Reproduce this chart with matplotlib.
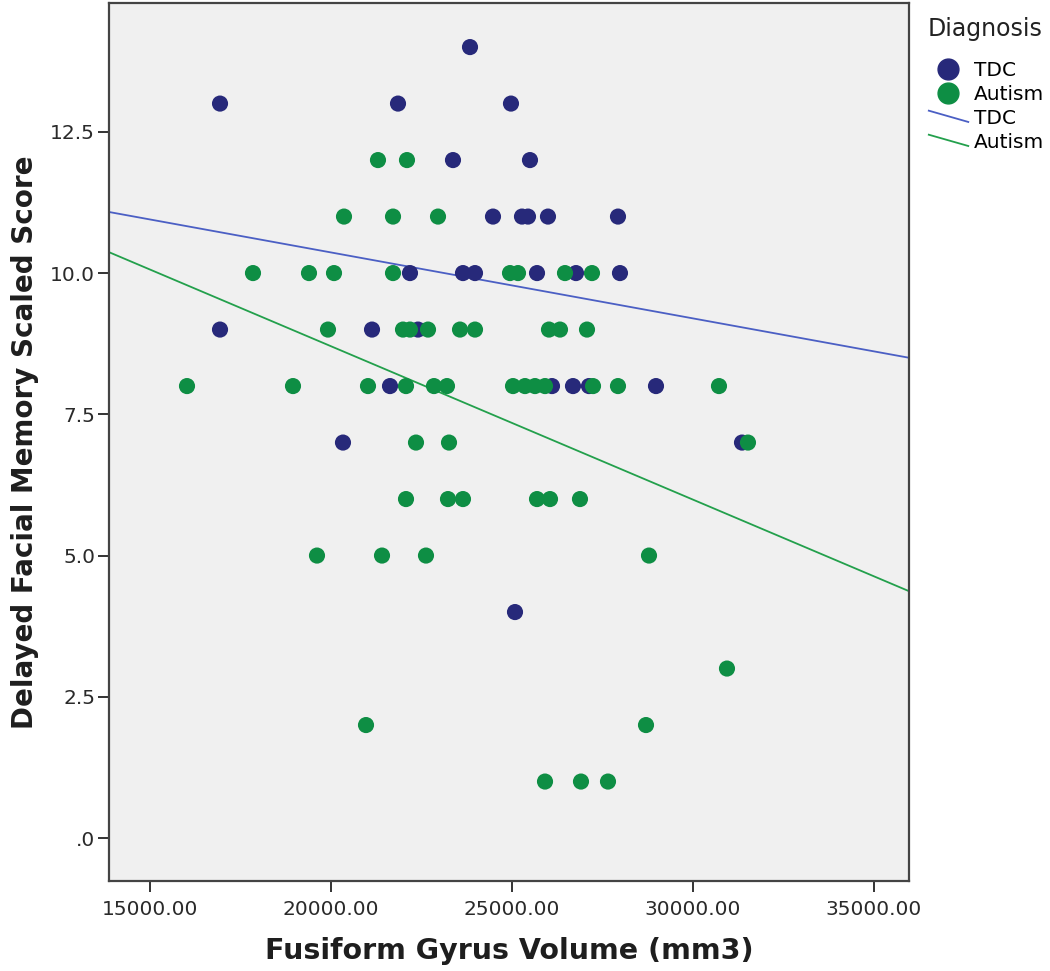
import matplotlib
matplotlib.use("Agg")
import matplotlib.pyplot as plt
from matplotlib.lines import Line2D
from matplotlib.legend_handler import HandlerBase
import numpy as np

# ---- data ----
tdc_x = [23840, 16934, 21851, 24972, 23370, 25497,
         24475, 25276, 25442, 25994, 27928,
         22182, 23646, 23978, 25691, 26768, 27983,
         16934, 21133, 22403,
         21630, 26105, 26685, 27127, 28978,
         20331, 31354,
         25083]
tdc_y = [14, 13, 13, 13, 12, 12,
         11, 11, 11, 11, 11,
         10, 10, 10, 10, 10, 10,
         9, 9, 9,
         8, 8, 8, 8, 8,
         7, 7,
         4]

aut_x = [21298, 22099,
         20359, 21713, 22956,
         17845, 19392, 20083, 21713, 24945, 25166, 26464, 27210,
         19917, 21989, 22182, 22680, 23564, 23978, 26022, 26326, 27072,
         16022, 18950, 21022, 22072, 22845, 23204, 25028, 25359, 25635, 25912, 27238, 27928, 30718,
         22348, 23260, 31519,
         22072, 23232, 23646, 25691, 26050, 26878,
         19613, 21409, 22624, 28785,
         30939,
         20967, 28702,
         25912, 26906, 27652]
aut_y = [12, 12,
         11, 11, 11,
         10, 10, 10, 10, 10, 10, 10, 10,
         9, 9, 9, 9, 9, 9, 9, 9, 9,
         8, 8, 8, 8, 8, 8, 8, 8, 8, 8, 8, 8, 8,
         7, 7, 7,
         6, 6, 6, 6, 6, 6,
         5, 5, 5, 5,
         3,
         2, 2,
         1, 1, 1]

# fit lines (intercept, slope)
tdc_fit = [12.70, -1.1674e-4]
aut_fit = [14.135, -2.715e-4]

groups = ["TDC", "Autism"]
x_ticks = [15000, 20000, 25000, 30000, 35000]
x_tick_labels = ["15000.00", "20000.00", "25000.00", "30000.00", "35000.00"]
y_ticks = [0, 2.5, 5, 7.5, 10, 12.5]
y_tick_labels = [".0", "2.5", "5.0", "7.5", "10.0", "12.5"]

# ---- styling ----
c_tdc = "#27297a"
c_aut = "#0e8e44"
c_tdc_line = "#4b5fc4"
c_aut_line = "#23a04c"


class HandlerDiag(HandlerBase):
    def create_artists(self, legend, orig_handle, xdescent, ydescent,
                       width, height, fontsize, trans):
        x0 = -xdescent
        y0 = -ydescent
        ln = Line2D([x0 + 0.02 * width, x0 + width],
                    [y0 + 0.95 * height, y0 + 0.15 * height])
        ln.set_color(orig_handle.get_color())
        ln.set_linewidth(orig_handle.get_linewidth())
        ln.set_transform(trans)
        return [ln]


fig = plt.figure(figsize=(10.5, 9.71), dpi=100)
ax = fig.add_axes([0.1038, 0.0927, 0.7619, 0.9042])
ax.set_facecolor("#f0f0f0")

xlim = (13867, 35967)
ax.set_xlim(*xlim)
ax.set_ylim(-0.76, 14.78)

xx = np.array(xlim, dtype=float)
ax.plot(xx, tdc_fit[0] + tdc_fit[1] * xx, color=c_tdc_line, lw=1.3, zorder=2)
ax.plot(xx, aut_fit[0] + aut_fit[1] * xx, color=c_aut_line, lw=1.3, zorder=2)

ax.scatter(tdc_x, tdc_y, s=135, color=c_tdc, edgecolors="none", zorder=3)
ax.scatter(aut_x, aut_y, s=135, color=c_aut, edgecolors="none", zorder=4)

ax.set_xticks(x_ticks)
ax.set_xticklabels(x_tick_labels)
ax.set_yticks(y_ticks)
ax.set_yticklabels(y_tick_labels)
ax.tick_params(axis="both", direction="out", length=8, width=1.4, colors="#333333",
               labelsize=14.5, labelcolor="#2a2a2a")
ax.tick_params(axis="x", pad=6)
ax.tick_params(axis="y", pad=2)
for sp in ax.spines.values():
    sp.set_color("#444444")
    sp.set_linewidth(1.6)

ax.set_xlabel("Fusiform Gyrus Volume (mm3)", fontsize=20.5, fontweight="bold",
              color="#1e1e1e", labelpad=13)
ax.set_ylabel("Delayed Facial Memory Scaled Score", fontsize=20, fontweight="bold",
              color="#1e1e1e", labelpad=8)

fig.text(928 / 1050, 1 - 29 / 971, "Diagnosis", fontsize=17, color="#222222",
         ha="left", va="center")

handles = [
    Line2D([], [], marker="o", ls="none", color=c_tdc, markersize=15),
    Line2D([], [], marker="o", ls="none", color=c_aut, markersize=15),
    Line2D([], [], color=c_tdc_line, lw=1.3),
    Line2D([], [], color=c_aut_line, lw=1.3),
]
leg = fig.legend(handles, groups + groups,
                 loc="upper left", bbox_to_anchor=(928 / 1050, 1 - 61 / 971),
                 frameon=False, fontsize=14.5, handlelength=2.0, handletextpad=0.3,
                 labelspacing=0.25, borderaxespad=0, borderpad=0,
                 handler_map={handles[2]: HandlerDiag(), handles[3]: HandlerDiag()})

fig.savefig("out.png", dpi=100)
